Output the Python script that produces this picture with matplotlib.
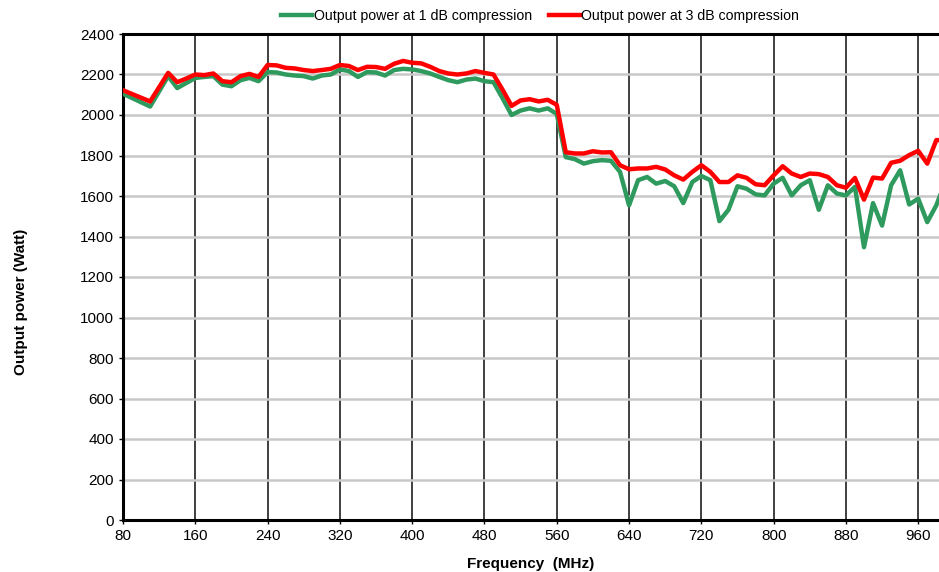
import matplotlib
matplotlib.use("Agg")
import matplotlib.pyplot as plt
from matplotlib import font_manager

# frequency points (MHz) and output power (W)
freq = [80, 110, 130, 140, 150, 160, 170, 180, 190, 200, 210, 220, 230, 240, 250,
        260, 270, 280, 290, 300, 310, 320, 330, 340, 350, 360, 370, 380, 390, 400,
        410, 420, 430, 440, 450, 460, 470, 480, 490, 500, 510, 520, 530, 540, 550,
        560, 570, 580, 590, 600, 610, 620, 630, 640, 650, 660, 670, 680, 690, 700,
        710, 720, 730, 740, 750, 760, 770, 780, 790, 800, 810, 820, 830, 840, 850,
        860, 870, 880, 890, 900, 910, 920, 930, 940, 950, 960, 970, 980, 990]

p1db = [2105, 2042, 2192, 2133, 2158, 2183, 2188, 2192, 2150, 2142, 2172, 2183, 2167, 2212, 2210,
        2200, 2195, 2192, 2180, 2195, 2200, 2225, 2217, 2188, 2212, 2210, 2195, 2222, 2228, 2225,
        2217, 2205, 2188, 2172, 2162, 2175, 2180, 2167, 2162, 2083, 2000, 2022, 2033, 2022, 2033,
        2005, 1792, 1782, 1760, 1772, 1777, 1774, 1719, 1554, 1678, 1694, 1661, 1674, 1648, 1565,
        1669, 1699, 1678, 1476, 1532, 1648, 1636, 1608, 1603, 1661, 1690, 1603, 1653, 1678, 1532,
        1653, 1612, 1603, 1645, 1347, 1565, 1454, 1653, 1727, 1558, 1587, 1471, 1554, 1669]

p3db = [2122, 2067, 2208, 2162, 2180, 2200, 2197, 2205, 2167, 2162, 2192, 2203, 2188, 2247, 2245,
        2233, 2230, 2222, 2217, 2222, 2228, 2247, 2242, 2222, 2238, 2237, 2228, 2253, 2267, 2258,
        2255, 2238, 2217, 2205, 2200, 2205, 2217, 2208, 2200, 2125, 2045, 2072, 2078, 2067, 2075,
        2050, 1816, 1810, 1810, 1821, 1815, 1816, 1752, 1732, 1736, 1736, 1744, 1731, 1702, 1681,
        1719, 1752, 1719, 1669, 1669, 1702, 1690, 1658, 1653, 1702, 1747, 1711, 1694, 1711, 1708,
        1694, 1653, 1641, 1689, 1582, 1691, 1686, 1764, 1774, 1802, 1823, 1760, 1876, 1876]

xticks = [80, 160, 240, 320, 400, 480, 560, 640, 720, 800, 880, 960]
yticks = list(range(0, 2401, 200))

names = [f.name for f in font_manager.fontManager.ttflist]
fam = "Liberation Sans Narrow" if "Liberation Sans Narrow" in names else "Liberation Sans"
plt.rcParams['font.family'] = [fam, 'DejaVu Sans']

fig = plt.figure(figsize=(9.39, 5.72), dpi=100)
ax = fig.add_axes([123/939, 52/572, 1 - 123/939, 486/572])

ax.plot(freq, p1db, color='#2e9a5e', lw=3.2, label='Output power at 1 dB compression', zorder=3)
ax.plot(freq, p3db, color='#ff0000', lw=3.2, label='Output power at 3 dB compression', zorder=4)

ax.set_xlim(80, 983)
ax.set_ylim(0, 2400)
ax.set_xticks(xticks)
ax.set_yticks(yticks)
ax.tick_params(labelsize=11, length=3, width=1, direction='out')

ax.xaxis.grid(True, color='#303030', lw=1.3)
ax.yaxis.grid(True, color='#c8c8c8', lw=1.8)
ax.set_axisbelow(True)
for s in ['left', 'bottom', 'top']:
    ax.spines[s].set_linewidth(2.2)
    ax.spines[s].set_color('black')
ax.spines['right'].set_visible(False)

ax.set_xlabel('Frequency  (MHz)', fontsize=11, fontweight='bold', labelpad=10)
ax.set_ylabel('Output power (Watt)', fontsize=11, fontweight='bold')
ax.yaxis.set_label_coords(-0.116, 0.448)

fig.legend(loc='upper center', bbox_to_anchor=(540/939, 1.0), ncol=2, frameon=False,
           fontsize=10.2, handlelength=2.2, handletextpad=0.1, columnspacing=1.2,
           borderaxespad=0.2)

fig.savefig('out.png', dpi=100)
